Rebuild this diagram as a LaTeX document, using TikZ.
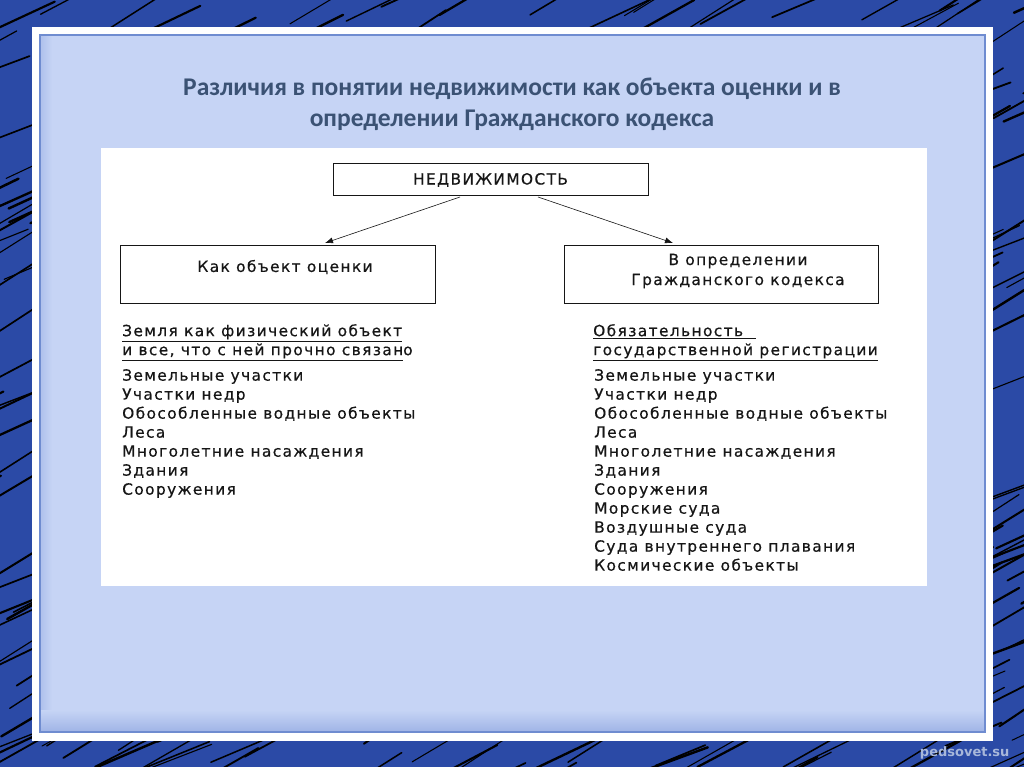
\documentclass[tikz,border=0pt]{standalone}
\usepackage{fontspec}
\setmainfont{DejaVu Sans}
\newfontfamily\titlefont{Carlito}
\newfontfamily\diagfont[LetterSpace=9,FakeBold=0.5]{DejaVu Sans}
\usetikzlibrary{arrows.meta}
\definecolor{bgblue}{HTML}{2B4AA6}
\definecolor{stroke}{HTML}{0C1670}
\definecolor{paneltop}{HTML}{C6D4F5}
\definecolor{panelbot}{HTML}{9FB3E6}
\definecolor{panelline}{HTML}{6F8CD0}
\definecolor{titlecol}{HTML}{3B5274}
\definecolor{ink}{HTML}{161616}
\definecolor{wm}{HTML}{A8B7DA}
\tikzset{
  box/.style={draw=ink, line width=1pt, fill=white, inner sep=0pt},
  boxtext/.style={font=\diagfont\fontsize{15.4}{20}\selectfont, text=ink, align=center},
  listtext/.style={font=\diagfont\fontsize{15.4}{19}\selectfont, text=ink, align=left, anchor=north west, inner sep=0pt},
  link/.style={draw=ink, line width=0.6pt, -{Latex[length=8pt,width=6pt]}},
  titletext/.style={font=\titlefont\bfseries\fontsize{25.5}{31}\selectfont, text=titlecol, align=center}
}
\begin{document}
\begin{tikzpicture}[x=1pt,y=-1pt]
\useasboundingbox (0,0) rectangle (1024,767);
\fill[bgblue] (0,0) rectangle (1024,767);
% hatch strokes
\pgfmathsetseed{11}
\foreach \i in {1,...,460}{
  \pgfmathsetmacro{\xa}{rnd*1140-80}
  \pgfmathsetmacro{\ya}{rnd*820}
  \pgfmathsetmacro{\len}{50+rnd*90}
  \pgfmathsetmacro{\ang}{-(20+rnd*14)}
  \pgfmathsetmacro{\lw}{1.0+rnd*1.5}
  \draw[stroke, line width=\lw pt, line cap=round] (\xa,\ya) -- ++(\ang:\len);
}
% frame
\fill[white] (32,27) rectangle (993,741);
\fill[paneltop] (40,35) rectangle (985,732);
\shade[left color=panelbot!60!paneltop, right color=paneltop] (40,35) rectangle (52,732);
\shade[top color=paneltop, bottom color=panelbot] (40,710) rectangle (985,732);
\draw[panelline, line width=1.2pt] (40,35) rectangle (985,732);
% title
\node[titletext] (title) at (512,104) {Различия в понятии недвижимости как объекта оценки и в\\определении Гражданского кодекса};
% white diagram area
\fill[white] (101,148) rectangle (927,586);
\node[box, minimum width=315pt, minimum height=32pt] (root) at (490.5,180) {};
\node[boxtext] (roottext) at (root.center) {НЕДВИЖИМОСТЬ};
\node[box, minimum width=315pt, minimum height=58pt] (left) at (277.5,274) {};
\node[boxtext] (lefttext) at (285,267) {Как объект оценки};
\node[box, minimum width=314pt, minimum height=58pt] (right) at (721,274) {};
\node[boxtext] (righttext) at (738,271) {В определении\\Гражданского кодекса};
\coordinate (ra) at (460,197);
\coordinate (rb) at (538,197);
\coordinate (la) at (325,243);
\coordinate (rt) at (673,243);
\draw[link] (ra) -- (la);
\draw[link] (rb) -- (rt);
% left list
\node[listtext] (lhead) at (122,324) {\underline{Земля как физический объект}\\\underline{и все, что с ней прочно связан}о};
\node[listtext] (llist) at (122,369) {Земельные участки\\Участки недр\\Обособленные водные объекты\\Леса\\Многолетние насаждения\\Здания\\Сооружения};
% right list
\node[listtext] (rhead) at (593,324) {\underline{Обязательность\ \ }\\\underline{государственной регистрации}};
\node[listtext] (rlist) at (594,369) {Земельные участки\\Участки недр\\Обособленные водные объекты\\Леса\\Многолетние насаждения\\Здания\\Сооружения\\Морские суда\\Воздушные суда\\Суда внутреннего плавания\\Космические объекты};
% watermark
\node[font=\bfseries\fontsize{13}{13}\selectfont, text=wm, anchor=east] (wmark) at (1013,753) {pedsovet.su};
\end{tikzpicture}
\end{document}
